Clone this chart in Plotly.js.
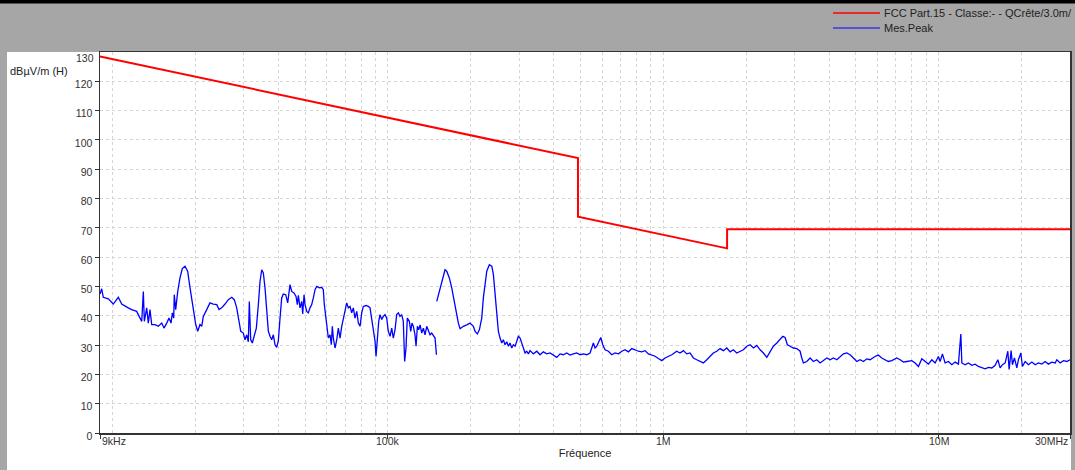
<!DOCTYPE html>
<html><head><meta charset="utf-8">
<script src="https://cdn.plot.ly/plotly-3.0.1.min.js"></script>
<style>html,body{margin:0;padding:0;background:#a6a6a6;}#chart{width:1075px;height:470px;}</style>
</head><body><div id="chart"></div>
<script>
// ---- data ----
const limitName = 'FCC Part.15 - Classe:- - QCrête/3.0m/';
const peakName = 'Mes.Peak';
const limitFreqKHz = [9, 490, 490, 1705, 1705, 30000];
const limitLevel = [128.5, 93.8, 73.8, 63.0, 69.5, 69.5];

const peakFreqKHz = [
9.00,9.13,9.25,9.65,10.06,10.49,10.79,11.09,11.40,11.73,12.23,12.58,12.76,12.93,13.04,13.30,13.48,13.67,13.87,14.26,
14.66,15.08,15.37,15.72,16.03,16.30,16.48,16.67,16.75,16.95,17.24,17.57,17.91,18.32,18.73,19.11,19.48,19.80,20.04,20.38,
20.77,21.07,21.35,21.97,22.58,23.22,23.89,24.35,24.90,25.60,26.32,27.08,27.67,28.23,28.78,29.20,29.84,30.26,30.70,31.11,
31.37,31.74,32.17,32.71,33.27,33.83,34.31,34.80,35.27,35.77,36.29,36.78,37.30,37.83,38.35,38.90,39.45,39.99,40.56,41.13,
41.69,42.54,43.25,43.72,44.09,44.72,45.59,46.36,46.87,47.27,47.94,48.62,49.03,49.57,49.99,50.70,51.39,52.12,52.86,53.58,
54.35,55.12,56.34,57.48,58.25,58.74,59.59,60.24,60.75,61.61,62.29,62.81,63.34,64.24,65.16,66.04,66.99,67.94,68.86,69.85,
70.85,71.80,72.83,73.87,74.87,75.94,77.03,78.07,79.19,80.31,81.40,83.26,84.88,86.09,87.32,88.50,89.77,90.52,91.52,92.58,
93.60,94.93,96.22,97.60,98.99,100.3,101.8,103.2,104.6,106.1,107.6,109.1,110.6,112.2,113.7,115.0,116.3,117.6,119.6,121.0,
122.3,123.7,125.4,126.5,127.9,129.4,130.8,132.7,134.5,136.4,138.3,140.2,142.2,144.2,146.2,148.3,150.0,
150.2,
150.4,154.6,158.1,161.2,163.5,167.1,170.5,173.9,177.8,180.2,182.8,187.9,193.3,198.7,201.6,204.3,207.2,211.2,214.8,219.1,
222.1,225.3,228.5,233.5,238.3,241.5,244.9,248.4,251.8,255.4,259.0,262.5,266.3,270.1,273.8,277.6,281.6,285.4,289.5,293.7,
297.6,301.9,306.2,310.3,314.8,319.3,323.6,328.2,337.4,347.1,356.8,366.8,377.4,388.0,398.8,410.3,421.8,433.6,446.1,458.6,
471.4,485.0,498.6,512.6,527.3,542.1,557.3,565.3,573.3,584.5,592.8,602.8,614.6,631.8,650.0,668.2,686.9,706.7,726.5,746.8,
768.3,789.8,812.0,835.4,858.7,882.8,908.2,933.7,959.8,987.4,1015,1044,1074,1119,1150,1183,1217,1251,1286,1323,
1361,1398,1439,1479,1520,1564,1608,1653,1701,1749,1797,1849,1901,1954,2010,2067,2125,2186,2247,2310,
2377,2443,2511,2584,2656,2717,2770,2823,2888,2969,3054,3140,3184,3228,3321,3414,3509,3610,3712,3815,
3925,4036,4148,4268,4388,4510,4640,4770,4903,5045,5186,5331,5485,5639,5874,6038,6212,6392,6571,6761,
7049,7247,7449,7664,7991,8215,8445,8689,8932,9182,9447,9711,9983,10126,10323,10558,10854,11166,11480,11801,
12041,12141,12484,12830,13200,13573,13949,14352,14757,15166,15604,16044,16408,16728,17052,17446,17838,18033,18337,18538,
18849,19232,19491,19887,20155,20619,21192,21803,22419,23041,23705,24375,25050,25773,26501,26874,27628,28398,29219,30000
];
const peakLevel = [
47.4,49.2,46.3,45.8,44.0,46.3,44.0,43.2,42.7,42.1,41.5,39.2,38.1,48.3,38.1,42.7,37.5,42.1,37.0,37.0,
36.4,37.5,35.8,37.5,39.2,37.5,41.0,39.2,47.2,42.1,48.3,52.9,56.1,56.9,55.2,49.5,43.8,39.8,37.0,34.7,
37.0,36.4,39.8,42.1,44.4,44.0,43.8,42.1,42.7,44.0,45.5,46.3,45.5,42.7,38.1,34.7,34.1,31.8,33.5,31.1,
44.9,31.8,30.7,33.0,35.8,43.8,51.7,55.7,54.6,49.5,41.5,34.7,33.0,31.8,33.5,30.1,29.2,31.5,39.2,46.1,
47.4,47.2,44.4,48.9,50.6,48.3,47.8,46.6,43.8,47.0,42.7,44.9,40.6,47.2,43.8,41.5,41.0,42.7,43.8,46.1,
48.9,50.0,49.5,49.7,48.9,43.8,38.1,34.7,32.4,33.5,30.1,36.4,32.4,29.0,31.8,35.8,32.4,36.4,39.2,42.7,
44.4,42.7,43.2,41.0,42.7,39.2,41.5,37.5,36.4,41.0,43.2,43.5,43.2,42.7,39.2,35.2,31.3,26.1,33.5,38.1,
40.4,38.7,39.8,40.4,39.2,34.7,33.0,35.8,32.4,35.2,40.4,41.0,39.8,40.4,38.1,24.4,29.0,39.2,38.1,34.7,
37.5,36.4,33.5,29.6,36.4,35.2,36.9,34.1,35.8,33.5,36.4,35.2,33.5,34.1,33.0,32.4,26.7,
null,
44.9,49.5,53.5,55.7,55.2,52.9,49.5,44.9,40.4,37.5,35.6,36.4,36.9,37.5,36.9,36.4,34.7,33.8,35.2,39.2,
46.1,50.6,55.2,57.4,56.9,54.1,47.2,39.2,34.7,32.4,30.7,31.8,30.1,31.1,29.6,30.7,29.0,30.1,29.6,31.3,
33.0,32.4,30.7,28.4,27.3,27.9,27.0,28.1,27.0,27.9,26.7,27.7,27.0,27.3,26.6,25.8,27.0,26.7,27.3,26.6,
27.0,27.3,26.7,27.0,26.7,27.3,30.7,29.0,29.6,31.3,32.6,30.1,28.4,27.9,26.7,27.3,27.0,27.9,28.4,27.7,
28.8,28.4,27.9,27.7,28.1,27.0,26.7,26.2,25.4,24.7,25.6,26.2,26.7,27.9,27.3,28.1,27.0,27.3,25.6,25.0,
24.4,23.9,25.0,26.1,27.3,27.9,28.8,28.1,29.0,27.7,28.4,27.3,27.9,28.4,29.6,30.1,29.0,29.9,28.4,27.3,
25.8,27.9,29.6,30.7,31.8,33.0,32.6,30.1,29.6,29.0,28.8,27.9,25.6,23.9,24.4,25.6,24.4,25.0,23.9,24.7,
25.6,25.0,25.6,25.0,26.1,27.0,27.3,26.7,25.6,24.4,25.0,24.4,25.3,25.0,26.1,26.6,25.6,25.0,24.4,24.7,
25.6,25.0,24.2,24.4,24.7,23.9,22.7,25.3,24.4,23.5,25.0,23.9,26.1,24.4,27.0,23.9,24.4,23.3,24.2,23.5,
33.8,23.9,23.3,23.9,23.1,23.5,22.7,22.4,21.9,22.4,22.2,23.1,25.0,22.2,23.3,23.9,27.9,21.7,28.1,23.3,
25.6,22.2,25.0,27.3,22.7,24.4,23.3,24.2,23.3,23.9,23.5,24.4,23.5,24.2,23.9,25.0,23.9,24.7,24.4,25.0
];

const xTickVals = [9, 100, 1000, 10000, 30000];
const xTickText = ['9kHz', '100k', '1M', '10M', '30MHz'];
const xGridVals = [10,20,30,40,50,60,70,80,90,200,300,400,500,600,700,800,900,
                   2000,3000,4000,5000,6000,7000,8000,9000,20000];
const yTickVals = [0,10,20,30,40,50,60,70,80,90,100,110,120];
const yTopLabel = '130';
const yTitle = 'dBµV/m (H)';
const xTitle = 'Fréquence';

// ---- chart ----
const FONT = 'Liberation Sans, Arial, Helvetica, sans-serif';
const gridColor = '#d5d5d5';

const traces = [
  {x: limitFreqKHz, y: limitLevel, type: 'scatter', mode: 'lines', name: limitName,
   line: {color: '#ff0000', width: 2}, showlegend: false},
  {x: peakFreqKHz, y: peakLevel, type: 'scatter', mode: 'lines', name: peakName,
   line: {color: '#0000ff', width: 1.3}, connectgaps: false, showlegend: false}
];

// pixel helpers for layout placement (plot area: x 100..1070, y 52..433)
const L = 100, R = 5, T = 52, B = 37, W = 1075, H = 470;
const pw = W - L - R, ph = H - T - B;
const px = v => (v - L) / pw;
const py = v => (H - B - v) / ph;

const annotations = [];
xTickVals.forEach((v, i) => {
  annotations.push({
    xref: 'x', yref: 'paper', x: Math.log10(v), y: py(441),
    text: xTickText[i], showarrow: false,
    xanchor: i === 0 ? 'left' : (i === xTickVals.length - 1 ? 'right' : 'center'),
    yanchor: 'middle', font: {family: FONT, size: 10.5, color: '#333'}
  });
});
annotations.push({xref: 'paper', yref: 'paper', x: px(96), y: py(58), text: yTopLabel,
  showarrow: false, xanchor: 'right', yanchor: 'middle', font: {family: FONT, size: 10.5, color: '#333'}});
annotations.push({xref: 'paper', yref: 'paper', x: px(8), y: py(71), text: yTitle,
  showarrow: false, xanchor: 'left', yanchor: 'middle', font: {family: FONT, size: 11, color: '#222'}});
annotations.push({xref: 'paper', yref: 'paper', x: px(882), y: py(13), text: limitName,
  showarrow: false, xanchor: 'left', yanchor: 'middle', font: {family: FONT, size: 11, color: '#222'}});
annotations.push({xref: 'paper', yref: 'paper', x: px(882), y: py(28), text: peakName,
  showarrow: false, xanchor: 'left', yanchor: 'middle', font: {family: FONT, size: 11, color: '#222'}});

const shapes = [
  {type: 'rect', xref: 'paper', yref: 'paper', x0: px(7), x1: px(1071), y0: py(470), y1: py(52),
   fillcolor: '#ffffff', line: {width: 0}, layer: 'below'},
  {type: 'rect', xref: 'paper', yref: 'paper', x0: px(0), x1: px(1075), y0: py(3.5), y1: py(0),
   fillcolor: '#000000', line: {width: 0}, layer: 'below'},
  {type: 'line', xref: 'paper', yref: 'paper', x0: px(833), x1: px(880), y0: py(13), y1: py(13),
   line: {color: '#ff0000', width: 1.5}},
  {type: 'line', xref: 'paper', yref: 'paper', x0: px(833), x1: px(880), y0: py(28), y1: py(28),
   line: {color: '#0000ff', width: 1.2}}
];

const layout = {
  width: W, height: H,
  margin: {l: L, r: R, t: T, b: B, pad: 0},
  paper_bgcolor: '#a6a6a6', plot_bgcolor: '#ffffff',
  font: {family: FONT, size: 10.5, color: '#333'},
  showlegend: false,
  xaxis: {
    type: 'log', range: [Math.log10(9), Math.log10(30000)], autorange: false,
    tickmode: 'array', tickvals: xTickVals, ticktext: xTickText, showticklabels: false,
    ticks: 'outside', ticklen: 4, tickcolor: '#333', tickwidth: 1,
    showgrid: true, gridcolor: gridColor, griddash: '3px,3px', gridwidth: 1,
    minor: {tickmode: 'array', tickvals: xGridVals, showgrid: true, gridcolor: gridColor,
            griddash: '3px,3px', gridwidth: 1, ticks: ''},
    showline: true, linecolor: '#333', linewidth: 1.5, mirror: true, zeroline: false,
    title: {text: xTitle, font: {family: FONT, size: 11, color: '#222'}, standoff: 12}
  },
  yaxis: {
    range: [0, 130], autorange: false,
    tickmode: 'array', tickvals: yTickVals,
    ticks: 'outside', ticklen: 4, tickcolor: '#333', tickwidth: 1, ticklabelshift: 3,
    tickfont: {family: FONT, size: 10.5, color: '#333'},
    showgrid: true, gridcolor: gridColor, griddash: '3px,3px', gridwidth: 1,
    showline: true, linecolor: '#333', linewidth: 1.5, mirror: true, zeroline: false
  },
  annotations: annotations,
  shapes: shapes
};

Plotly.newPlot('chart', traces, layout, {staticPlot: true, displayModeBar: false});
</script>
</body></html>
